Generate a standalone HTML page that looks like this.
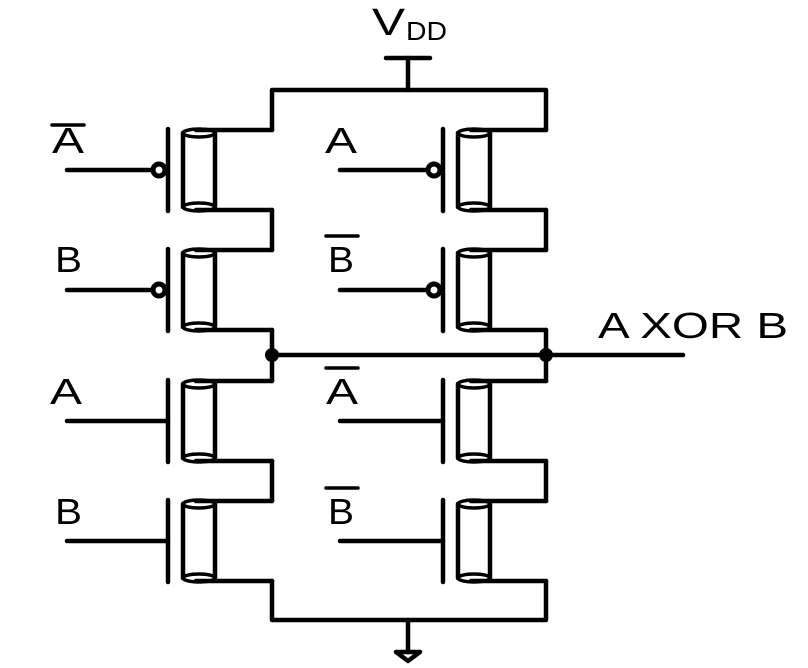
<!DOCTYPE html>
<html><head><style>html,body{margin:0;padding:0;background:#fff}svg{display:block}</style></head><body>
<svg width="808" height="668" viewBox="0 0 808 668" xmlns="http://www.w3.org/2000/svg">
<g stroke="#000" stroke-width="4.5" fill="none" stroke-linecap="round" stroke-linejoin="round">
<line x1="386" y1="58" x2="430" y2="58"/><line x1="408" y1="58" x2="408" y2="90"/>
<polyline points="272,130 272,90 546,90 546,130"/>
<polyline points="272,581 272,620 546,620 546,581"/>
<line x1="408" y1="620" x2="408" y2="652"/>
<polygon points="396,652 420,652 408,661"/>
<line x1="272" y1="210" x2="272" y2="250"/><line x1="546" y1="210" x2="546" y2="250"/>
<line x1="272" y1="330" x2="272" y2="381"/><line x1="546" y1="330" x2="546" y2="381"/>
<line x1="272" y1="461" x2="272" y2="501"/><line x1="546" y1="461" x2="546" y2="501"/>
<line x1="272" y1="355" x2="683" y2="355"/>
</g>
<circle cx="272" cy="355" r="7" fill="#000"/><circle cx="546" cy="355" r="7" fill="#000"/>
<g stroke="#000" stroke-width="4.5" fill="none" stroke-linecap="round">
<g transform="translate(168,170)">
<line x1="0" y1="-41" x2="0" y2="41"/><line x1="15" y1="-37" x2="15" y2="37"/><line x1="47" y1="-37" x2="47" y2="37"/>
<ellipse cx="31" cy="-37" rx="16" ry="4" stroke-width="3.5"/><ellipse cx="31" cy="37" rx="16" ry="4" stroke-width="3.5"/>
<line x1="28" y1="-40" x2="104" y2="-40"/><line x1="28" y1="40" x2="104" y2="40"/>
<circle cx="-9" cy="0" r="6" stroke-width="5"/><line x1="-101" y1="0" x2="-15" y2="0"/></g>
<g transform="translate(168,290)">
<line x1="0" y1="-41" x2="0" y2="41"/><line x1="15" y1="-37" x2="15" y2="37"/><line x1="47" y1="-37" x2="47" y2="37"/>
<ellipse cx="31" cy="-37" rx="16" ry="4" stroke-width="3.5"/><ellipse cx="31" cy="37" rx="16" ry="4" stroke-width="3.5"/>
<line x1="28" y1="-40" x2="104" y2="-40"/><line x1="28" y1="40" x2="104" y2="40"/>
<circle cx="-9" cy="0" r="6" stroke-width="5"/><line x1="-101" y1="0" x2="-15" y2="0"/></g>
<g transform="translate(168,421)">
<line x1="0" y1="-41" x2="0" y2="41"/><line x1="15" y1="-37" x2="15" y2="37"/><line x1="47" y1="-37" x2="47" y2="37"/>
<ellipse cx="31" cy="-37" rx="16" ry="4" stroke-width="3.5"/><ellipse cx="31" cy="37" rx="16" ry="4" stroke-width="3.5"/>
<line x1="28" y1="-40" x2="104" y2="-40"/><line x1="28" y1="40" x2="104" y2="40"/>
<line x1="-101" y1="0" x2="0" y2="0"/></g>
<g transform="translate(168,541)">
<line x1="0" y1="-41" x2="0" y2="41"/><line x1="15" y1="-37" x2="15" y2="37"/><line x1="47" y1="-37" x2="47" y2="37"/>
<ellipse cx="31" cy="-37" rx="16" ry="4" stroke-width="3.5"/><ellipse cx="31" cy="37" rx="16" ry="4" stroke-width="3.5"/>
<line x1="28" y1="-40" x2="104" y2="-40"/><line x1="28" y1="40" x2="104" y2="40"/>
<line x1="-101" y1="0" x2="0" y2="0"/></g>
<g transform="translate(443,170)">
<line x1="0" y1="-41" x2="0" y2="41"/><line x1="15" y1="-37" x2="15" y2="37"/><line x1="47" y1="-37" x2="47" y2="37"/>
<ellipse cx="31" cy="-37" rx="16" ry="4" stroke-width="3.5"/><ellipse cx="31" cy="37" rx="16" ry="4" stroke-width="3.5"/>
<line x1="28" y1="-40" x2="103" y2="-40"/><line x1="28" y1="40" x2="103" y2="40"/>
<circle cx="-9" cy="0" r="6" stroke-width="5"/><line x1="-103" y1="0" x2="-15" y2="0"/></g>
<g transform="translate(443,290)">
<line x1="0" y1="-41" x2="0" y2="41"/><line x1="15" y1="-37" x2="15" y2="37"/><line x1="47" y1="-37" x2="47" y2="37"/>
<ellipse cx="31" cy="-37" rx="16" ry="4" stroke-width="3.5"/><ellipse cx="31" cy="37" rx="16" ry="4" stroke-width="3.5"/>
<line x1="28" y1="-40" x2="103" y2="-40"/><line x1="28" y1="40" x2="103" y2="40"/>
<circle cx="-9" cy="0" r="6" stroke-width="5"/><line x1="-103" y1="0" x2="-15" y2="0"/></g>
<g transform="translate(443,421)">
<line x1="0" y1="-41" x2="0" y2="41"/><line x1="15" y1="-37" x2="15" y2="37"/><line x1="47" y1="-37" x2="47" y2="37"/>
<ellipse cx="31" cy="-37" rx="16" ry="4" stroke-width="3.5"/><ellipse cx="31" cy="37" rx="16" ry="4" stroke-width="3.5"/>
<line x1="28" y1="-40" x2="103" y2="-40"/><line x1="28" y1="40" x2="103" y2="40"/>
<line x1="-103" y1="0" x2="0" y2="0"/></g>
<g transform="translate(443,541)">
<line x1="0" y1="-41" x2="0" y2="41"/><line x1="15" y1="-37" x2="15" y2="37"/><line x1="47" y1="-37" x2="47" y2="37"/>
<ellipse cx="31" cy="-37" rx="16" ry="4" stroke-width="3.5"/><ellipse cx="31" cy="37" rx="16" ry="4" stroke-width="3.5"/>
<line x1="28" y1="-40" x2="103" y2="-40"/><line x1="28" y1="40" x2="103" y2="40"/>
<line x1="-103" y1="0" x2="0" y2="0"/></g>
<line x1="52" y1="125" x2="84" y2="125" stroke-width="3.5"/>
<line x1="326" y1="236" x2="358" y2="236" stroke-width="3.5"/>
<line x1="326" y1="368" x2="358" y2="368" stroke-width="3.5"/>
<line x1="326" y1="488" x2="358" y2="488" stroke-width="3.5"/>
</g>
<g font-family="'Liberation Sans', sans-serif" font-size="36" fill="#000" lengthAdjust="spacingAndGlyphs">
<text x="52" y="153" textLength="32" lengthAdjust="spacingAndGlyphs">A</text>
<text x="55" y="272" textLength="27" lengthAdjust="spacingAndGlyphs">B</text>
<text x="50" y="404" textLength="32" lengthAdjust="spacingAndGlyphs">A</text>
<text x="55" y="524" textLength="27" lengthAdjust="spacingAndGlyphs">B</text>
<text x="325" y="153" textLength="32" lengthAdjust="spacingAndGlyphs">A</text>
<text x="328" y="272" textLength="26" lengthAdjust="spacingAndGlyphs">B</text>
<text x="326" y="404" textLength="32" lengthAdjust="spacingAndGlyphs">A</text>
<text x="328" y="524" textLength="26" lengthAdjust="spacingAndGlyphs">B</text>
<text x="598" y="338" textLength="190" lengthAdjust="spacingAndGlyphs">A XOR B</text>
<text x="372" y="35" font-size="38" textLength="33" lengthAdjust="spacingAndGlyphs">V</text>
<text x="406" y="40" font-size="26" textLength="41" lengthAdjust="spacingAndGlyphs">DD</text>
</g>
</svg>
</body></html>
